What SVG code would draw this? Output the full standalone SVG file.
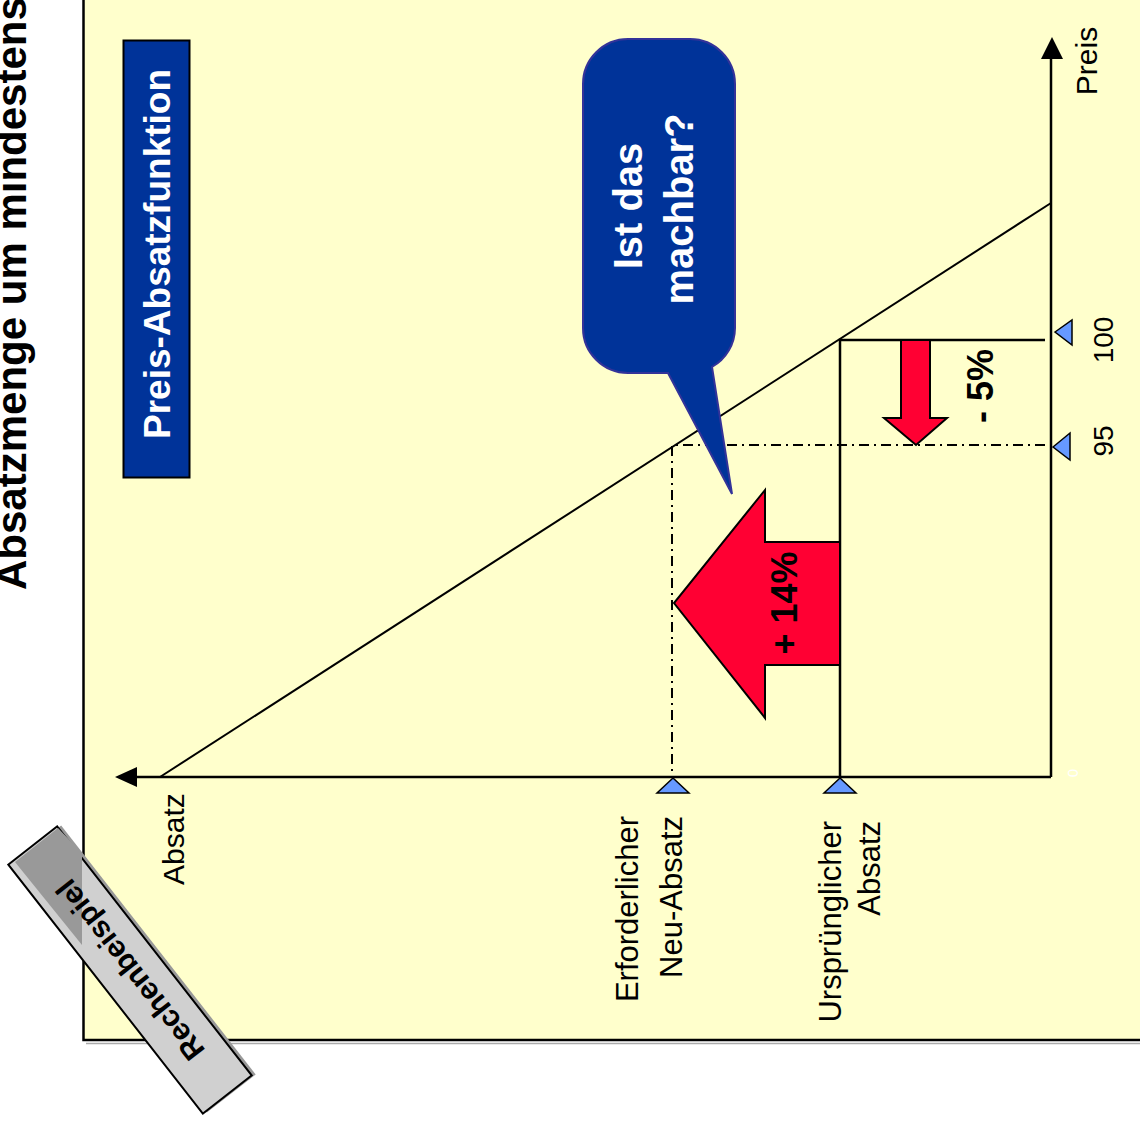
<svg xmlns="http://www.w3.org/2000/svg" width="1140" height="1124" viewBox="0 0 1140 1124">
<defs>
<style>
.t{font-family:"Liberation Sans",Arial,sans-serif;fill:#000}
.b{font-weight:bold}
.w{fill:#fff}
.ln{stroke:#000;stroke-width:2.5;fill:none}
.dd{stroke:#000;stroke-width:2;fill:none;stroke-dasharray:10 5 2 5}
.tri{fill:#6699FF;stroke:#000;stroke-width:1.5}
.red{fill:#FF0033;stroke:#000;stroke-width:2;stroke-linejoin:miter}
</style>
</defs>
<rect width="1140" height="1124" fill="#fff"/>
<g id="title">
<text class="t b" font-size="42" transform="translate(26,590) rotate(-90)">Absatzmenge um mindestens</text>
</g>
<g id="panel">
<line x1="86" y1="1043.5" x2="1140" y2="1043.5" stroke="#aaa" stroke-width="1.5"/>
<rect x="83.5" y="-10" width="1100" height="1050" fill="#FFFFCC" stroke="#000" stroke-width="2.5"/>
</g>
<g id="heading">
<rect x="123.5" y="40.5" width="66" height="437" fill="#003399" stroke="#000" stroke-width="2"/>
<text class="t b w" font-size="37" text-anchor="middle" transform="translate(170,254) rotate(-90)">Preis-Absatzfunktion</text>
</g>
<g id="connectors">
<line class="ln" x1="1051" y1="777" x2="1051" y2="56"/>
<polygon points="1052,37 1041,59 1063,59" fill="#000"/>
<line class="ln" x1="1051" y1="777" x2="134" y2="777"/>
<polygon points="115,777 137,767 137,787" fill="#000"/>
<line x1="160" y1="777" x2="1051" y2="203" stroke="#000" stroke-width="2"/>
<polyline class="ln" points="1045,340 840,340 840,777"/>
<polyline class="dd" points="1045,445 672,445 672,777"/>
</g>
<g id="bubble">
<path d="M628,39 H690 A45,45 0 0 1 735,84 V328 A45,45 0 0 1 712,367 L732,494 L668,373 H628 A45,45 0 0 1 583,328 V84 A45,45 0 0 1 628,39 Z" fill="#003399" stroke="#333399" stroke-width="2"/>
<text class="t b w" font-size="40" text-anchor="middle" transform="translate(642,206) rotate(-90)">Ist das</text>
<text class="t b w" font-size="40" text-anchor="middle" transform="translate(693,209) rotate(-90)">machbar?</text>
</g>
<g id="arrow-down">
<polygon class="red" points="901,340 930,340 930,418 947,418 916,445 884,418 901,418"/>
<text class="t b" font-size="36" text-anchor="middle" transform="translate(993,386) rotate(-90)">- 5%</text>
</g>
<g id="arrow-left">
<polygon class="red" points="840,542 840,665 765,665 765,718 674,603 765,490 765,542"/>
<text class="t b" font-size="36" text-anchor="middle" transform="translate(797,603) rotate(-90)">+ 14%</text>
</g>
<g id="price-axis">
<polygon class="tri" points="1055,332 1072,320 1072,345"/>
<polygon class="tri" points="1053,447 1070,433 1070,460"/>
<text class="t" font-size="30" text-anchor="middle" transform="translate(1097,61) rotate(-90)">Preis</text>
<text class="t" font-size="28" text-anchor="middle" transform="translate(1113,340) rotate(-90)">100</text>
<text class="t" font-size="28" text-anchor="middle" transform="translate(1113,441) rotate(-90)">95</text>
<text class="t w" font-size="15" text-anchor="middle" transform="translate(1078,773) rotate(-90)">0</text>
</g>
<g id="qty-axis">
<polygon class="tri" points="673,778 657,793 689,793"/>
<polygon class="tri" points="840,778 824,793 856,793"/>
<text class="t" font-size="30" transform="translate(184,885) rotate(-90)">Absatz</text>
<text class="t" font-size="31" text-anchor="end" transform="translate(638,816) rotate(-90)">Erforderlicher</text>
<text class="t" font-size="31" text-anchor="end" transform="translate(682,816) rotate(-90)">Neu-Absatz</text>
<text class="t" font-size="31" text-anchor="end" transform="translate(841,821) rotate(-90)">Ursprünglicher</text>
<text class="t" font-size="31" text-anchor="end" transform="translate(880,821) rotate(-90)">Absatz</text>
</g>
<g id="rechenbeispiel">
<rect x="-158" y="-31" width="316" height="62" fill="#999" transform="translate(134,969) rotate(52)"/>
<rect x="-158" y="-31" width="316" height="62" fill="#D0D0D0" stroke="#000" stroke-width="2" transform="translate(130,970) rotate(52)"/>
<polygon points="15,862 58,828 82,853 82,945" fill="#999"/>
<text class="t b" font-size="30" text-anchor="middle" dominant-baseline="central" transform="translate(130,970) rotate(232)">Rechenbeispiel</text>
</g>
</svg>
